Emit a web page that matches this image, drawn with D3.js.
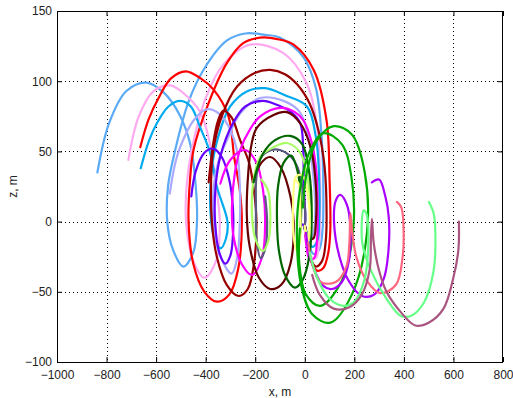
<!DOCTYPE html>
<html><head><meta charset="utf-8">
<script src="https://cdn.jsdelivr.net/npm/d3@7"></script>
<style>body{margin:0;background:#fff}svg{display:block}text{font-family:"Liberation Sans",Arial,sans-serif}</style>
</head><body><svg id="c" width="513" height="398"></svg>
<script>
const xTicks = [-1000,-800,-600,-400,-200,0,200,400,600,800];
const zTicks = [-100,-50,0,50,100,150];
const xLabel = "x, m", zLabel = "z, m";
const seriesNames = ["lightBlue","pink","red","skyBlue","lavender","darkRed","violet","magenta","darkMaroon","slate","lightGreen","darkGreen","yellow","green","purple","pinkRed","springGreen","mauve"];

const lightBlue = [[-837,35],[-790,70],[-720,93],[-640,99],[-570,92],[-505,76],[-462,55],[-440,25],[-435,0],[-450,-22],[-490,-32],[-532,-20],[-555,0],[-552,25],[-523,51],[-470,85],[-409,108],[-314,129],[-240,134],[-160,133],[-99,131],[-5,117],[45,95],[68,60],[75,20],[72,-5],[58,-20],[35,-23],[12,-14],[0,-3]];
const pink = [[-712,44],[-670,75],[-610,93],[-543,97],[-480,90],[-422,78],[-382,55],[-358,25],[-343,0],[-358,-28],[-405,-40],[-450,-28],[-479,0],[-476,27],[-455,52],[-400,88],[-328,112],[-220,126],[-86,120],[9,98],[48,70],[60,40],[62,5],[58,-15],[45,-26],[25,-25],[8,-14],[0,-3]];
const red = [[-664,53],[-630,73],[-590,88],[-540,102],[-480,107],[-420,102],[-368,94],[-308,75],[-285,46],[-262,22],[-254,0],[-268,-33],[-305,-52],[-355,-57],[-405,-50],[-450,-30],[-469,0],[-463,30],[-449,51],[-389,84],[-314,113],[-250,127],[-180,131],[-110,130],[-45,126],[36,108],[88,72],[100,30],[103,-6],[95,-22],[75,-33],[50,-35],[25,-28],[8,-15],[0,-3]];
const skyBlue = [[-662,38],[-630,57],[-597,70],[-550,82],[-503,86],[-460,82],[-422,67],[-382,49],[-355,25],[-312,0],[-318,-12],[-340,-19],[-365,-12],[-380,5],[-377,35],[-350,60],[-301,82],[-230,93],[-160,95],[-80,90],[9,82],[45,60],[57,35],[58,0],[50,-14],[30,-18],[10,-11],[0,-2]];
const lavender = [[-545,20],[-525,40],[-503,53],[-449,72],[-395,80],[-340,76],[-300,65],[-274,51],[-262,25],[-262,0],[-272,-25],[-295,-37],[-340,-25],[-366,-5],[-368,25],[-345,45],[-314,58],[-261,77],[-180,88],[-86,86],[-20,78],[15,60],[30,40],[42,13],[38,-5],[22,-13],[6,-6],[0,-2]];
const darkRed = [[-388,28],[-370,55],[-350,72],[-328,79],[-295,74],[-261,58],[-225,42],[-205,22],[-195,0],[-205,-30],[-230,-48],[-267,-53],[-315,-45],[-355,-25],[-375,0],[-378,30],[-370,50],[-335,75],[-274,96],[-200,106],[-139,108],[-80,105],[-32,98],[20,84],[55,65],[80,39],[88,5],[84,-15],[70,-28],[45,-32],[20,-25],[5,-12],[-1,-2]];
const violet = [[-458,18],[-440,36],[-405,49],[-370,52],[-335,46],[-305,30],[-290,10],[-290,-10],[-300,-24],[-321,-30],[-345,-22],[-362,0],[-360,25],[-340,47],[-290,70],[-240,82],[-170,86],[-110,83],[-55,78],[-18,70],[-6,50],[-4,25],[2,2],[-2,-3],[-10,-2]];
const magenta = [[-341,27],[-300,44],[-240,51],[-195,42],[-168,22],[-160,0],[-172,-25],[-213,-38],[-255,-30],[-288,-10],[-294,10],[-282,35],[-261,51],[-220,66],[-180,75],[-99,81],[-40,78],[-5,72],[30,55],[47,35],[52,10],[50,-12],[38,-26],[20,-27],[5,-15],[0,-3]];
const darkMaroon = [[-207,28],[-175,42],[-139,46],[-95,38],[-58,18],[-45,0],[-58,-30],[-95,-45],[-139,-48],[-185,-40],[-222,-18],[-234,5],[-228,35],[-215,55],[-193,67],[-126,76],[-72,78],[-18,70],[25,52],[45,25],[45,0],[35,-12],[15,-12],[3,-4]];
const slate = [[-160,18],[-152,0],[-158,-18],[-178,-26],[-195,-12],[-197,10],[-196,30],[-180,45],[-135,51],[-100,51],[-55,46],[-28,38],[-6,20],[2,0],[-3,-5]];
const lightGreen = [[-175,30],[-148,22],[-139,3],[-146,-13],[-170,-21],[-200,-12],[-213,5],[-208,28],[-180,46],[-126,53],[-72,56],[-18,49],[12,30],[22,5],[15,-12],[4,-6]];
const darkGreen = [[-207,28],[-170,48],[-120,58],[-59,61],[-10,55],[18,35],[28,5],[18,-25],[-10,-42],[-40,-47],[-80,-38],[-105,-20],[-112,0],[-108,25],[-85,42],[-55,47],[-28,35],[-15,12],[-18,-8]];
const yellow = [[-40,30],[-25,27],[-18,10],[-20,-14],[-32,-21],[-45,-10],[-47,12],[-35,32],[-10,33],[12,20],[20,0],[14,-14],[4,-9],[0,-3]];
const green = [[-20,-5],[-22,-30],[5,-52],[63,-60],[150,-42],[196,-4],[188,32],[150,55],[76,63],[20,50],[-20,22],[-32,-8],[-15,-45],[30,-66],[103,-72],[190,-52],[251,-8],[242,35],[190,62],[117,68],[50,58],[8,35],[-8,10]];
const purple = [[271,28],[300,30],[325,18],[339,3],[338,-20],[320,-40],[280,-52],[231,-53],[180,-43],[140,-25],[118,0],[125,15],[143,19],[170,12],[184,-4],[178,-28],[150,-43],[110,-48],[76,-46],[40,-35],[15,-20],[5,-8]];
const pinkRed = [[372,14],[390,10],[399,-8],[395,-25],[368,-45],[305,-51],[250,-42],[208,-25],[190,-5],[184,6],[180,-15],[168,-32],[125,-43],[63,-43],[30,-30],[14,-15]];
const springGreen = [[501,14],[520,6],[527,-8],[520,-35],[480,-58],[430,-67],[386,-67],[330,-55],[270,-36],[232,-15],[238,8],[250,5],[256,-18],[240,-42],[200,-57],[157,-60],[100,-55],[50,-40],[20,-22]];
const mauve = [[622,0],[620,-20],[601,-39],[560,-62],[500,-72],[446,-74],[390,-65],[330,-50],[300,-35],[278,-15],[271,2],[267,-12],[262,-34],[230,-52],[180,-61],[117,-62],[60,-52],[30,-38]];

const seriesData = [lightBlue,pink,red,skyBlue,lavender,darkRed,violet,magenta,darkMaroon,slate,lightGreen,darkGreen,yellow,green,purple,pinkRed,springGreen,mauve];
const seriesColors = ["#5aaaf5","#ffaaf0","#ff0000","#00aaee","#aaaaff","#990000","#6600ff","#ff00ff","#660000","#5a5a80","#aaff66","#006600","#ffff80","#00aa00","#aa00ff","#ff6680","#66ff88","#aa5580"];

const L=57,R=503,T=11,B=362;
const x = d3.scaleLinear().domain([-1000,800]).range([L,R]);
const y = d3.scaleLinear().domain([-100,150]).range([B,T]);
const svg = d3.select("#c");

const g = svg.append("g");
g.selectAll(".gx").data(xTicks.slice(1,-1)).enter().append("line")
 .attr("x1",d=>Math.round(x(d))+0.5).attr("x2",d=>Math.round(x(d))+0.5).attr("y1",T).attr("y2",B)
 .attr("stroke","#000").attr("stroke-width",1).attr("stroke-dasharray","1,3");
g.selectAll(".gy").data(zTicks.slice(1,-1)).enter().append("line")
 .attr("y1",d=>Math.round(y(d))+0.5).attr("y2",d=>Math.round(y(d))+0.5).attr("x1",L).attr("x2",R)
 .attr("stroke","#000").attr("stroke-width",1).attr("stroke-dasharray","1,3");

svg.append("clipPath").attr("id","cp").append("rect").attr("x",L).attr("y",T).attr("width",R-L).attr("height",B-T);
const line = d3.line().x(d=>x(d[0])).y(d=>y(d[1])).curve(d3.curveCatmullRom.alpha(0.5));
svg.append("g").attr("clip-path","url(#cp)").selectAll("path").data(seriesData).enter().append("path")
 .attr("d",line).attr("fill","none").attr("stroke",(d,i)=>seriesColors[i]).attr("stroke-width",2.2)
 .attr("stroke-linejoin","round").attr("stroke-linecap","round");

const xb = d3.axisBottom(x).tickValues(xTicks).tickSize(-5).tickPadding(8).tickFormat(d3.format("d"));
const xt = d3.axisTop(x).tickValues(xTicks).tickSize(-5).tickFormat("");
const yl = d3.axisLeft(y).tickValues(zTicks).tickSize(-5).tickPadding(5).tickFormat(d3.format("d"));
const yr = d3.axisRight(y).tickValues(zTicks).tickSize(-5).tickFormat("");
function style(sel){sel.selectAll(".domain").remove();sel.selectAll("line").attr("stroke","#000");sel.selectAll("text").attr("font-size",12).attr("fill","#222").attr("font-family","Liberation Sans, Arial, sans-serif");}
svg.append("g").attr("transform",`translate(0,${B})`).call(xb).call(style);
svg.append("g").attr("transform",`translate(0,${T})`).call(xt).call(style);
svg.append("g").attr("transform",`translate(${L},0)`).call(yl).call(style);
svg.append("g").attr("transform",`translate(${R},0)`).call(yr).call(style);
svg.append("rect").attr("x",L+0.5).attr("y",T+0.5).attr("width",R-L-1).attr("height",B-T).attr("fill","none").attr("stroke","#000").attr("stroke-width",1);

svg.append("text").attr("x",(L+R)/2).attr("y",396).attr("text-anchor","middle").attr("font-size",12).attr("fill","#222").text(xLabel);
svg.append("text").attr("transform",`translate(17,${(T+B)/2}) rotate(-90)`).attr("text-anchor","middle").attr("font-size",12).attr("fill","#222").text(zLabel);
</script></body></html>
